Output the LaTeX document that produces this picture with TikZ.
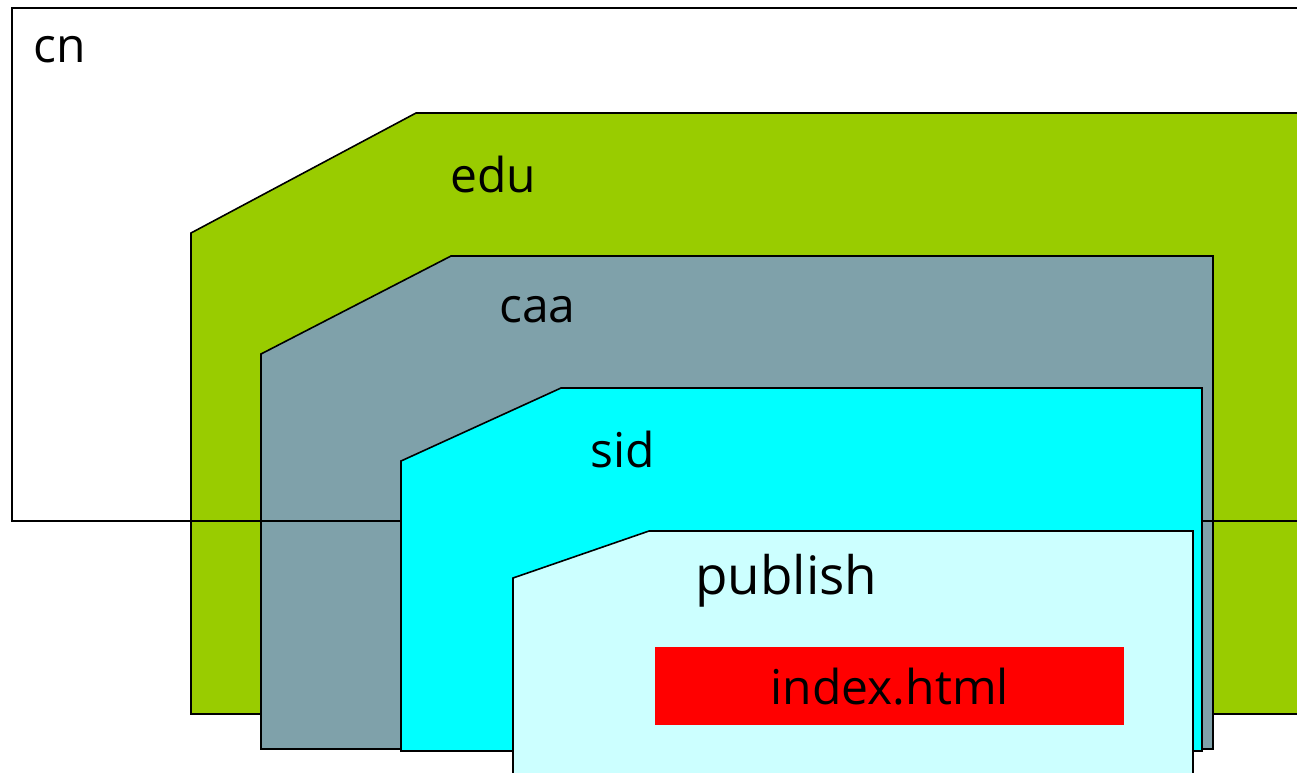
\documentclass[tikz,border=0pt]{standalone}
\usepackage{fontspec}
\setmainfont{Open Sans}
\definecolor{edugreen}{HTML}{99CC00}
\definecolor{caagrey}{HTML}{7FA1AA}
\definecolor{sidcyan}{HTML}{00FFFF}
\definecolor{pubcyan}{HTML}{CCFFFF}
\definecolor{idxred}{HTML}{FF0000}
\tikzset{
  zone/.style={draw=black, line width=1.6pt, line join=miter},
  lbl/.style={anchor=base west, inner sep=0pt, font=\fontsize{48}{52}\selectfont},
}
\begin{document}
\begin{tikzpicture}[x=1pt,y=-1pt]
\useasboundingbox (0,0) rectangle (1297,772);
\clip (0,0) rectangle (1297,772);
% cn background
\fill[white] (12,8) rectangle (1320,521);
% edu
\path[zone, fill=edugreen] (191,714) -- (191,233) -- (416,113) -- (1320,113) -- (1320,714) -- cycle;
% caa
\path[zone, fill=caagrey] (261,749) -- (261,354) -- (451,256) -- (1213,256) -- (1213,749) -- cycle;
% cn outline
\draw[zone] (1320,8) -- (12,8) -- (12,521) -- (1320,521);
% sid
\path[zone, fill=sidcyan] (401,751) -- (401,461) -- (561,388) -- (1202,388) -- (1202,751) -- cycle;
% publish
\path[zone, fill=pubcyan] (513,790) -- (513,578) -- (649,531) -- (1193,531) -- (1193,790) -- cycle;
% index.html
\node[fill=idxred, minimum width=469pt, minimum height=78pt, inner sep=0pt, anchor=north west,
      font=\fontsize{48}{52}\selectfont] (idx) at (655,647) {index.html};
% labels
\node[lbl] (cn) at (33,62) {cn};
\node[lbl] (edu) at (450,192) {edu};
\node[lbl] (caa) at (499,322) {caa};
\node[lbl] (sid) at (590,467) {sid};
\node[lbl, font=\fontsize{53}{57}\selectfont] (pub) at (695,594) {publish};
\end{tikzpicture}
\end{document}
